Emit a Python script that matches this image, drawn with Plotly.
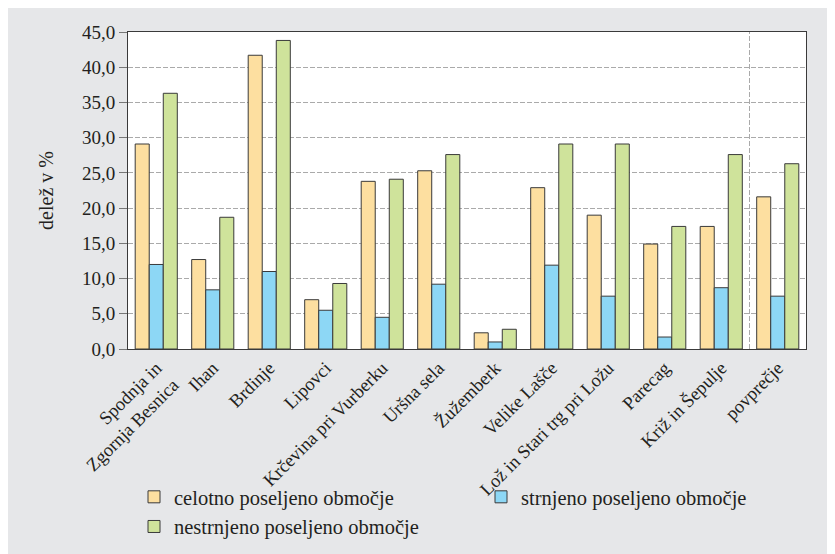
import plotly.graph_objects as go

categories = ["Spodnja in<br>Zgornja Besnica", "Ihan", "Brdinje", "Lipovci",
              "Krčevina pri Vurberku", "Uršna sela", "Žužemberk", "Velike Lašče",
              "Lož in Stari trg pri Ložu", "Parecag", "Križ in Šepulje", "povprečje"]
celotno = [29.1, 12.7, 41.7, 7.0, 23.8, 25.3, 2.3, 22.9, 19.0, 14.9, 17.4, 21.6]
strnjeno = [12.0, 8.4, 11.0, 5.5, 4.5, 9.2, 1.0, 11.9, 7.5, 1.7, 8.7, 7.5]
nestrnjeno = [36.3, 18.7, 43.8, 9.3, 24.1, 27.6, 2.8, 29.1, 29.1, 17.4, 27.6, 26.3]
y_ticks = [0, 5, 10, 15, 20, 25, 30, 35, 40, 45]

FONT = "Liberation Serif, Times New Roman, DejaVu Serif, serif"
W, H = 835, 554
OFF = 8  # page body margin offset
L, R, T, B = 128, 806, 32, 349  # plot area in screen pixels

def px(x):
    return (x - L) / (R - L)

def py(y):
    return (B - y) / (B - T)

line = dict(color="#3a3a3a", width=1)
fig = go.Figure()
fig.add_trace(go.Bar(x=categories, y=celotno, name="celotno poseljeno območje",
                     marker=dict(color="#fddfa0", line=line), legend="legend"))
fig.add_trace(go.Bar(x=categories, y=strnjeno, name="strnjeno poseljeno območje",
                     marker=dict(color="#8dd7f5", line=line), legend="legend2"))
fig.add_trace(go.Bar(x=categories, y=nestrnjeno, name="nestrnjeno poseljeno območje",
                     marker=dict(color="#cfe39b", line=line), legend="legend"))

shapes = [
    dict(type="rect", xref="paper", yref="paper", x0=px(6), x1=px(W + 10), y0=py(H + 10), y1=py(5),
         fillcolor="#e6e7e9", line=dict(color="#8c8c8c", width=2), layer="below"),
    dict(type="rect", xref="paper", yref="paper", x0=0, x1=1, y0=0, y1=1,
         fillcolor="white", line=dict(width=0), layer="below"),
    dict(type="line", xref="x", yref="paper", x0=10.5, x1=10.5, y0=0, y1=1,
         line=dict(color="#aaaaaa", width=1, dash="5px,2px"), layer="below"),
]

fig.update_layout(
    width=W, height=H,
    margin=dict(l=L - OFF, r=W - (R - OFF), t=T - OFF, b=H - (B - OFF), autoexpand=False),
    paper_bgcolor="white",
    plot_bgcolor="white",
    separators=", ",
    font=dict(family=FONT, size=16, color="#231f20"),
    barmode="group",
    bargap=0.255,
    bargroupgap=0,
    shapes=shapes,
    showlegend=True,
    legend=dict(x=px(134), y=py(477), xanchor="left", yanchor="top", orientation="v",
                bgcolor="rgba(0,0,0,0)", font=dict(size=20.5, family=FONT), tracegroupgap=0,
                itemwidth=30),
    legend2=dict(x=px(481), y=py(477), xanchor="left", yanchor="top", orientation="v",
                 bgcolor="rgba(0,0,0,0)", font=dict(size=20.5, family=FONT), itemwidth=30),
    xaxis=dict(tickangle=-45, tickfont=dict(size=18.5, family=FONT), showline=True,
               linecolor="#3a3a3a", linewidth=1, mirror=True, ticks="", showgrid=False,
               automargin=False),
    yaxis=dict(range=[0, 45], tickvals=y_ticks, tickformat=".1f", showline=True,
               linecolor="#3a3a3a", linewidth=1, mirror=True, ticks="outside", ticklen=8,
               tickcolor="#777777", tickfont=dict(size=19, family=FONT),
               showgrid=True, gridcolor="#aaaaaa", griddash="5px,2px", gridwidth=1,
               zeroline=False, automargin=False,
               title=dict(text="delež v %", font=dict(size=20, family=FONT), standoff=22)),
)

fig.write_html("out.html")
